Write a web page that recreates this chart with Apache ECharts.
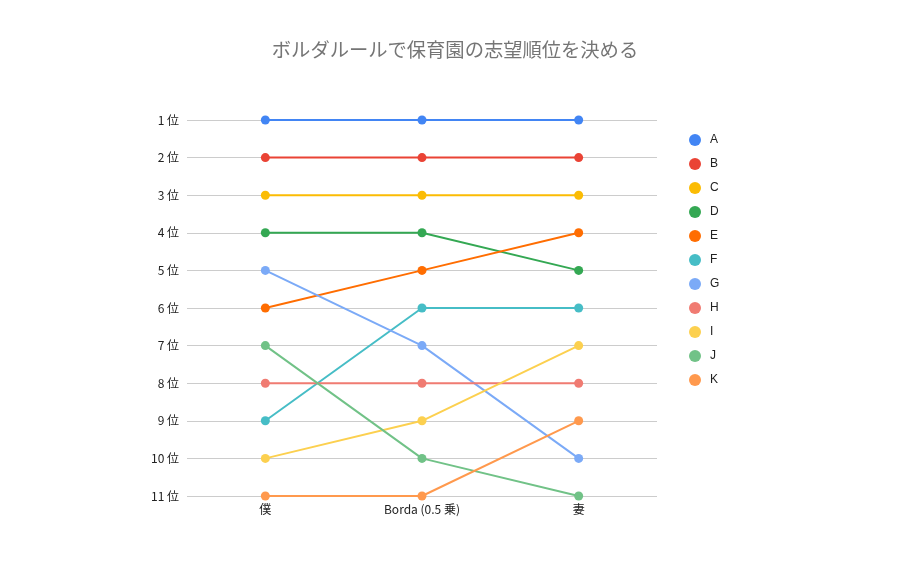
<!DOCTYPE html>
<html lang="ja">
<head>
<meta charset="utf-8">
<title>ボルダルールで保育園の志望順位を決める</title>
<script src="https://cdn.jsdelivr.net/npm/echarts@6/dist/echarts.min.js"></script>
<style>
  html, body { margin: 0; padding: 0; background: #fff; }
  #main { width: 910px; height: 562px; }
</style>
</head>
<body>
<div id="main"></div>
<script>
// 投票者ごとの順位
var categories = ['僕', 'Borda (0.5 乗)', '妻'];
var names = ['A', 'B', 'C', 'D', 'E', 'F', 'G', 'H', 'I', 'J', 'K'];
var rankA = [1, 1, 1];
var rankB = [2, 2, 2];
var rankC = [3, 3, 3];
var rankD = [4, 4, 5];
var rankE = [6, 5, 4];
var rankF = [9, 6, 6];
var rankG = [5, 7, 10];
var rankH = [8, 8, 8];
var rankI = [10, 9, 7];
var rankJ = [7, 10, 11];
var rankK = [11, 11, 9];
var ranks = [rankA, rankB, rankC, rankD, rankE, rankF, rankG, rankH, rankI, rankJ, rankK];
var colors = ['#4285F4', '#EA4335', '#FBBC04', '#34A853', '#FF6D01', '#46BDC6',
              '#7BAAF7', '#F07B72', '#FCD04F', '#71C287', '#FF994D'];

var cjk = '"Noto Sans CJK JP", sans-serif';
var latin = '"Liberation Sans", Arial, sans-serif';
var chart = echarts.init(document.getElementById('main'));

var series = names.map(function (n, i) {
  return {
    name: n,
    type: 'line',
    data: ranks[i],
    symbol: 'circle',
    symbolSize: 9,
    lineStyle: { width: 2 },
    itemStyle: { color: colors[i] },
    z: 3
  };
});

chart.setOption({
  color: colors,
  animation: false,
  title: {
    text: 'ボルダルールで保育園の志望順位を決める',
    left: 'center',
    top: 35,
    textStyle: { fontSize: 19.3, fontWeight: 'normal', color: '#757575', fontFamily: cjk }
  },
  legend: {
    orient: 'vertical',
    left: 684,
    top: 129,
    itemGap: 12,
    itemWidth: 12,
    itemHeight: 12,
    icon: 'circle',
    data: names,
    textStyle: { fontSize: 12, color: '#222', fontFamily: latin, padding: [0, 0, 0, 4] }
  },
  grid: { left: 187, right: 253, top: 120, bottom: 66, containLabel: false },
  xAxis: {
    type: 'category',
    data: categories,
    boundaryGap: true,
    axisLine: { show: false },
    axisTick: { show: false },
    axisLabel: { color: '#222', fontSize: 12, margin: 7, fontFamily: cjk }
  },
  yAxis: {
    type: 'value',
    inverse: true,
    min: 1,
    max: 11,
    interval: 1,
    axisLine: { show: false },
    axisTick: { show: false },
    axisLabel: { color: '#222', fontSize: 12, margin: 8, fontFamily: cjk,
      formatter: function (v) { return v + ' 位'; } },
    splitLine: { lineStyle: { color: '#cccccc', width: 1 } }
  },
  series: series
});
</script>
</body>
</html>
